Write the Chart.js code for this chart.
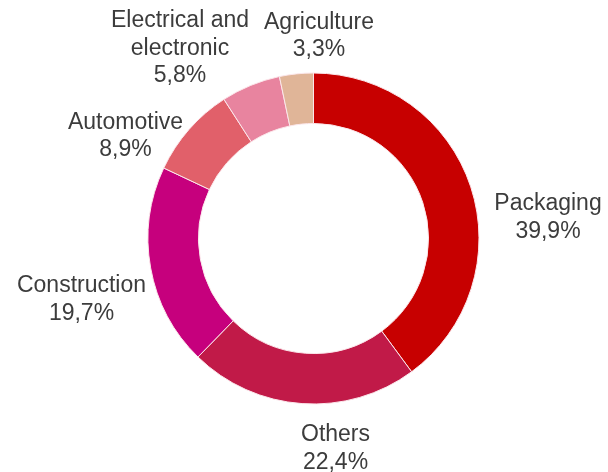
<!DOCTYPE html>
<html>
<head>
<meta charset="utf-8">
<script src="https://cdn.jsdelivr.net/npm/chart.js@4/dist/chart.umd.min.js"></script>
<style>
  html, body { margin: 0; padding: 0; background: #ffffff; }
  #wrap { width: 608px; height: 472px; position: relative; }
</style>
</head>
<body>
<div id="wrap"><canvas id="c" width="608" height="472"></canvas></div>
<script>
// ---- data ----
const categories = ["Packaging", "Others", "Construction", "Automotive", "Electrical and\nelectronic", "Agriculture"];
const shares = [39.9, 22.4, 19.7, 8.9, 5.8, 3.3];
const sliceColors = ["#c70000", "#c11a48", "#c6007d", "#e1606a", "#e8849f", "#e0b598"];

// label placement (offset of label block centre from doughnut centre, px)
const labelOffsets = [[234.5, -21], [22, 210], [-232, 61], [-188, -102.5], [-133.5, -190], [5.5, -202.5]];

const labelPlugin = {
  id: 'sliceLabels',
  afterDraw(chart) {
    const ctx = chart.ctx;
    const meta = chart.getDatasetMeta(0);
    const lh = 27.5;
    ctx.save();
    ctx.fillStyle = '#3c3c3c';
    ctx.font = '23px "Liberation Sans", Arial, sans-serif';
    ctx.textAlign = 'center';
    ctx.textBaseline = 'middle';
    meta.data.forEach((arc, i) => {
      const cx = arc.x + labelOffsets[i][0];
      const cy = arc.y + labelOffsets[i][1];
      const lines = categories[i].split('\n');
      lines.push(shares[i].toFixed(1).replace('.', ',') + '%');
      const top = cy - (lines.length - 1) * lh / 2;
      lines.forEach((t, k) => ctx.fillText(t, cx, top + k * lh));
    });
    ctx.restore();
  }
};

new Chart(document.getElementById('c'), {
  type: 'doughnut',
  data: {
    labels: categories,
    datasets: [{
      data: shares,
      backgroundColor: sliceColors,
      borderColor: '#fbe6ea',
      borderWidth: 1
    }]
  },
  options: {
    responsive: false,
    animation: false,
    cutout: '69.5%',
    rotation: 0,
    layout: { padding: { left: 147.5, right: 128.5, top: 72.5, bottom: 67.5 } },
    plugins: {
      legend: { display: false },
      tooltip: { enabled: false },
      title: { display: false }
    }
  },
  plugins: [labelPlugin]
});
</script>
</body>
</html>
